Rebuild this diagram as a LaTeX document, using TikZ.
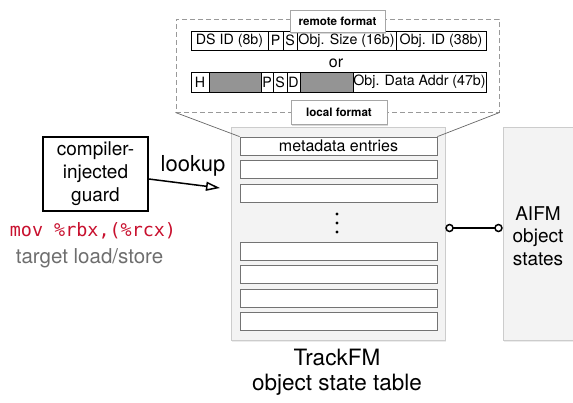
\documentclass[tikz,border=0pt]{standalone}
\usepackage{fontspec}
\setmainfont{TeX Gyre Heros}
\setmonofont{DejaVu Sans Mono}
\usepackage{tikz}
\usetikzlibrary{arrows.meta}
\usetikzlibrary{shadows}
\usetikzlibrary{math}

\definecolor{movRed}{RGB}{200,16,46}
\definecolor{hintGrey}{RGB}{110,110,110}
\definecolor{panelGrey}{RGB}{243,243,243}

\tikzset{
    fieldCell/.style={draw, line width=0.8pt, minimum height=19pt, inner sep=0pt,
        font=\fontsize{14.2}{16}\selectfont},
    blankCell/.style={fieldCell, fill=black!42},
    formatTag/.style={draw=black!35, fill=white, line width=0.8pt, inner sep=0pt,
        font=\bfseries\fontsize{11.6}{13}\selectfont,
        drop shadow={shadow xshift=1pt, shadow yshift=-1.5pt, opacity=0.3}},
    entryRow/.style={draw=black!55, fill=white, line width=0.8pt,
        minimum width=197pt, minimum height=18pt, inner sep=0pt,
        font=\fontsize{16}{18}\selectfont},
    panelBox/.style={draw=black!20, fill=panelGrey, line width=0.6pt, inner sep=0pt,
        drop shadow={shadow xshift=1pt, shadow yshift=-1.5pt, opacity=0.15}},
}

\begin{document}
\begin{tikzpicture}[x=1pt, y=-1pt]

\useasboundingbox (0,0) rectangle (573,402);

% Row positions of the table
\tikzmath{
    \rowStep = 23.5;
    \entryX = 338.5;
    \topRow = 146;
    \lowRow = 251;
}

% Draws the dashed format box
\node[draw=black!40, dash pattern=on 5pt off 3pt, line width=1pt,
    minimum width=323pt, minimum height=93pt, inner sep=0pt] (fmtBox) at (337.5,65.5) {};

% Remote format fields
\foreach \xl/\xr/\txt/\sty [count=\i] in {191/268/DS ID (8b)/fieldCell, 268/283/P/fieldCell,
    283/297/S/fieldCell, 297/396/Obj. Size (16b)/fieldCell, 396/486/Obj. ID (38b)/fieldCell} {
    \node[\sty, minimum width={(\xr-\xl)*1pt}] (remote\i) at ({(\xl+\xr)/2},40.5) {\txt};
}

\node[font=\fontsize{16}{18}\selectfont] (orWord) at (336,63) {or};

% Local format fields
\foreach \xl/\xr/\txt/\sty [count=\i] in {191/209/H/fieldCell, 209/261//blankCell,
    261/273/P/fieldCell, 273/287/S/fieldCell, 287/300/D/fieldCell, 300/353//blankCell,
    353/486/Obj. Data Addr (47b)/fieldCell} {
    \node[\sty, minimum width={(\xr-\xl)*1pt}, minimum height=20pt] (local\i) at ({(\xl+\xr)/2},82) {\txt};
}

\node[formatTag, minimum width=95pt, minimum height=22pt] (remoteTag) at (337.5,21) {remote format};
\node[formatTag, minimum width=96pt, minimum height=24pt] (localTag) at (339,112) {local format};

% Draws the state table
\node[panelBox, minimum width=214pt, minimum height=213pt] (stateTable) at (338,233.5) {};

\node[entryRow] (entry1) at (\entryX,\topRow) {metadata entries};
\foreach \k in {1,2} {
    \node[entryRow] (entry\the\numexpr\k+1\relax) at (\entryX,{\topRow+\k*\rowStep}) {};
}
\foreach \k in {0,...,3} {
    \node[entryRow] (entry\the\numexpr\k+4\relax) at (\entryX,{\lowRow+\k*\rowStep}) {};
}

\foreach \y in {214,223,232} {
    \fill (337,\y) circle (1.7pt);
}

\draw[black!60, line width=0.7pt] (fmtBox.south west) -- (entry1.north west);
\draw[black!60, line width=0.7pt] (fmtBox.south east) -- (entry1.north east);

\node[align=center, font=\fontsize{22.5}{24.5}\selectfont] (tableLabel) at (337,372) {TrackFM\\object state table};

% Draws the AIFM box
\node[panelBox, minimum width=74pt, minimum height=213pt] (aifm) at (540,233.5) {};
\node[align=center, font=\fontsize{19}{22.5}\selectfont] (aifmLabel) at (538,236) {AIFM\\object\\states};

\draw[line width=1.5pt, {Circle[open, length=8.5pt, width=8.5pt, fill=white]}-{Circle[open, length=8.5pt, width=8.5pt, fill=white]}]
    ([yshift=5.5pt]stateTable.east) -- ([yshift=5.5pt]aifm.west);

% Draws the guard and the lookup
\node[draw, line width=1.6pt, minimum width=105pt, minimum height=74pt, inner sep=0pt,
    align=center, font=\fontsize{19}{23}\selectfont] (guard) at (95.5,174) {compiler-\\injected\\guard};

\coordinate (lookupEnd) at (220,188);
\node[font=\fontsize{22}{24}\selectfont] (lookupWord) at (193,166) {lookup};
\draw[line width=1.5pt, -{Triangle[open, length=14pt, width=9pt]}] ([yshift=-5pt]guard.east) -- (lookupEnd);

\node[text=movRed, font=\ttfamily\fontsize{18.4}{20}\selectfont] (movInstr) at (93,231) {mov \%rbx,(\%rcx)};
\node[text=hintGrey, font=\fontsize{20.5}{22}\selectfont] (targetLabel) at (89.5,258) {target load/store};

\end{tikzpicture}
\end{document}
